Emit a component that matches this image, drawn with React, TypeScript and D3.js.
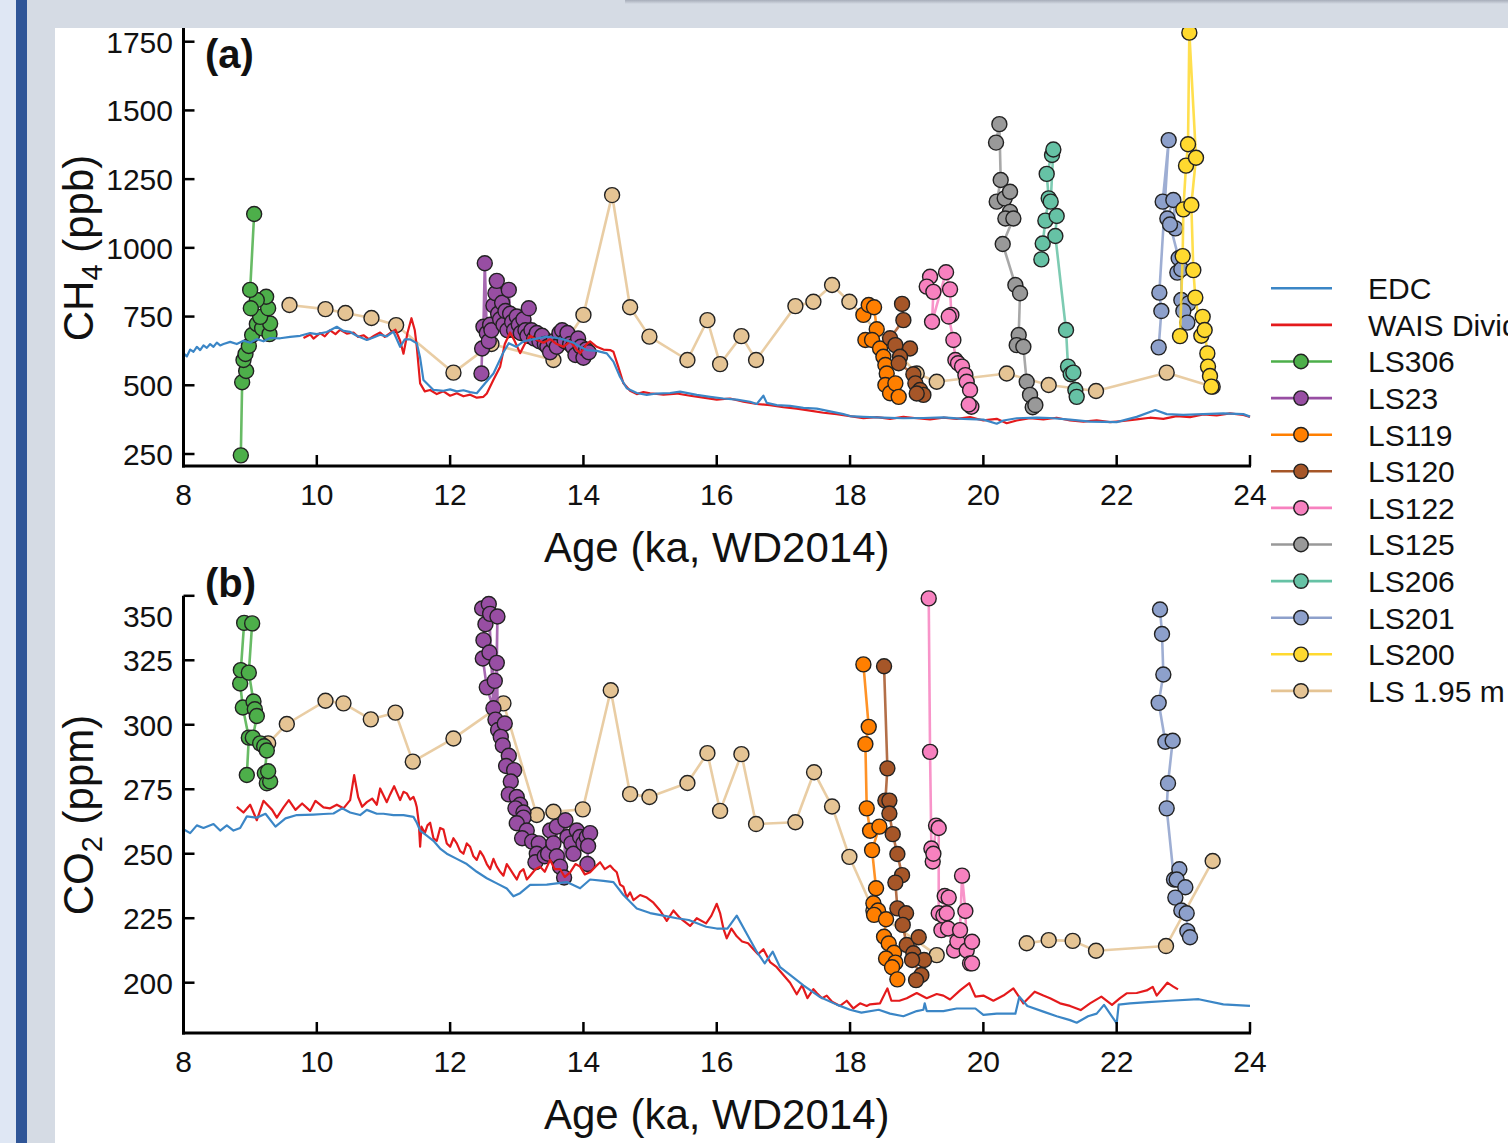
import React from 'react';
import * as d3 from 'd3';

type P = [number, number] | null;

const FONT = '"Liberation Sans", Arial, Helvetica, sans-serif';
const W = 1508;
const H = 1143;

// ---------- tick values ----------
const xTicks = [8, 10, 12, 14, 16, 18, 20, 22, 24];
const ch4Ticks = [250, 500, 750, 1000, 1250, 1500, 1750];
const co2Ticks = [200, 225, 250, 275, 300, 325, 350];

// ---------- Panel (a) CH4 ----------
const EDC_CH4: P[] = [[8.0,617],[8.05,605],[8.1,630],[8.15,622],[8.2,640],[8.25,628],[8.3,645],[8.35,636],[8.4,650],[8.45,640],[8.5,655],[8.55,645],[8.6,650],[8.7,658],[8.8,650],[8.9,662],[9.0,655],[9.1,668],[9.2,660],[9.3,672],[9.45,671],[9.6,676],[9.75,680],[9.9,690],[10.0,686],[10.15,694],[10.3,713],[10.4,698],[10.5,694],[10.6,680],[10.75,665],[10.85,674],[10.95,684],[11.05,678],[11.15,695],[11.25,640],[11.32,667],[11.4,667],[11.5,653],[11.55,600],[11.6,519],[11.75,483],[11.9,480],[12.0,485],[12.1,478],[12.2,482],[12.3,475],[12.4,471],[12.5,500],[12.65,543],[12.8,620],[12.88,653],[12.99,640],[13.1,660],[13.2,665],[13.3,670],[13.45,677],[13.6,672],[13.7,667],[13.85,655],[13.95,640],[14.05,628],[14.2,625],[14.35,616],[14.45,586],[14.55,530],[14.65,489],[14.8,472],[14.95,465],[15.1,470],[15.3,472],[15.45,477],[15.7,465],[15.9,458],[16.1,452],[16.3,448],[16.5,440],[16.6,432],[16.7,462],[16.75,436],[16.9,428],[17.1,425],[17.3,418],[17.5,415],[17.7,405],[17.9,395],[18.0,388],[18.2,385],[18.5,382],[18.8,380],[19.1,381],[19.4,383],[19.7,378],[20.0,375],[20.2,360],[20.3,372],[20.5,380],[20.8,382],[21.0,381],[21.3,375],[21.6,368],[22.0,366],[22.3,385],[22.58,410],[22.75,395],[23.0,392],[23.3,395],[23.6,398],[23.9,395],[24.0,386]];

const WAIS_CH4: P[] = [[9.8,672],[9.9,685],[9.95,670],[10.05,690],[10.12,678],[10.2,700],[10.28,686],[10.35,702],[10.45,688],[10.55,692],[10.62,676],[10.7,682],[10.78,668],[10.86,680],[10.95,692],[11.02,676],[11.1,690],[11.18,702],[11.25,662],[11.3,615],[11.36,690],[11.42,744],[11.47,700],[11.5,640],[11.55,507],[11.62,478],[11.7,483],[11.8,468],[11.9,478],[12.0,462],[12.1,471],[12.2,460],[12.3,466],[12.4,455],[12.5,458],[12.55,470],[12.65,520],[12.75,567],[12.82,650],[12.9,692],[12.97,660],[13.05,617],[13.12,650],[13.2,680],[13.3,665],[13.4,655],[13.5,668],[13.6,650],[13.7,640],[13.8,660],[13.9,630],[13.95,616],[14.05,650],[14.1,660],[14.2,640],[14.3,630],[14.4,628],[14.45,622],[14.52,570],[14.6,507],[14.7,480],[14.8,468],[14.9,475],[15.0,471],[15.2,466],[15.4,470],[15.6,462],[15.8,455],[16.0,448],[16.2,452],[16.4,440],[16.6,432],[16.8,428],[17.0,420],[17.2,415],[17.4,408],[17.6,400],[17.8,395],[18.0,388],[18.2,380],[18.4,384],[18.6,378],[18.8,385],[19.0,380],[19.2,376],[19.4,382],[19.6,378],[19.8,384],[20.0,372],[20.2,378],[20.35,362],[20.5,372],[20.7,380],[20.9,376],[21.1,382],[21.3,372],[21.5,368],[21.7,372],[21.9,366],[22.1,370],[22.3,376],[22.5,382],[22.7,378],[22.9,388],[23.1,384],[23.3,394],[23.5,390],[23.7,398],[23.9,392],[24.0,385]];

const LS306_CH4: P[] = [[8.86,245],[8.88,511],[8.94,552],[8.90,592],[8.93,614],[8.98,643],[9.03,683],[9.10,723],[9.18,707],[9.29,686],[9.30,725],[9.15,749],[9.27,780],[9.24,822],[9.10,810],[9.01,780],[9.0,847],[9.06,1123]];
const LS23_CH4: P[] = [[12.47,543],[12.48,634],[12.50,713],[12.52,944],[12.55,690],[12.58,660],[12.60,720],[12.62,700],[12.65,790],[12.68,835],[12.70,880],[12.72,760],[12.75,740],[12.78,800],[12.80,720],[12.83,770],[12.86,700],[12.88,847],[12.90,760],[12.93,730],[12.96,700],[13.00,750],[13.03,720],[13.06,690],[13.10,740],[13.13,700],[13.16,680],[13.18,780],[13.22,700],[13.26,670],[13.30,690],[13.34,660],[13.38,680],[13.42,650],[13.46,640],[13.50,620],[13.55,660],[13.60,640],[13.64,690],[13.68,700],[13.72,660],[13.76,690],[13.80,650],[13.84,640],[13.88,610],[13.92,670],[13.96,640],[14.00,600],[14.04,630],[14.08,620]];
const LS119_CH4: P[] = [[18.20,756],[18.28,792],[18.36,784],[18.40,704],[18.23,665],[18.33,665],[18.45,634],[18.50,604],[18.53,574],[18.55,543],[18.53,501],[18.60,471],[18.68,507],[18.73,458]];
const LS120_CH4: P[] = [[18.78,796],[18.80,737],[18.60,671],[18.68,646],[18.90,634],[18.75,604],[18.73,580],[18.95,540],[18.98,507],[19.05,483],[19.10,465],[19.0,470]];
const LS122_CH4: P[] = [[19.20,895],[19.15,859],[19.25,840],[19.23,731],[19.44,911],[19.50,849],[19.52,756],[19.48,750],[19.55,665],[19.58,592],[19.62,580],[19.68,568],[19.73,537],[19.75,513],[19.80,483],[19.82,422],[19.78,430]];
const LS125_CH4: P[] = [[20.19,1383],[20.24,1450],[20.26,1247],[20.20,1168],[20.32,1180],[20.40,1204],[20.40,1131],[20.33,1107],[20.45,1107],[20.29,1014],[20.48,865],[20.55,835],[20.53,683],[20.50,646],[20.60,640],[20.65,513],[20.70,465],[20.74,420],[20.78,428]];
const LS206_CH4: P[] = [[20.87,958],[20.89,1016],[20.93,1099],[20.98,1180],[20.95,1269],[21.03,1338],[21.05,1358],[21.01,1168],[21.10,1116],[21.08,1043],[21.24,701],[21.27,568],[21.31,540],[21.35,546],[21.38,483],[21.40,458]];
const LS201_CH4: P[] = [[22.63,638],[22.67,770],[22.64,837],[22.78,1392],[22.69,1168],[22.76,1107],[22.85,1174],[22.88,1071],[22.80,1085],[22.93,962],[22.91,910],[22.97,922],[22.97,810],[23.08,798],[23.0,770],[23.06,728]];
const LS200_CH4: P[] = [[22.95,679],[22.99,970],[23.00,1140],[23.04,1299],[23.07,1377],[23.09,1783],[23.19,1328],[23.12,1156],[23.15,919],[23.18,819],[23.27,680],[23.29,749],[23.32,701],[23.36,616],[23.37,568],[23.40,534],[23.42,495]];
const LS195_CH4: P[] = [[9.59,792],[10.13,777],[10.43,763],[10.82,745],[11.19,719],[12.05,546],[12.62,650],[13.55,592],[14.0,756],[14.43,1192],[14.70,784],[14.99,677],[15.56,592],[15.86,737],[16.05,577],[16.37,679],[16.59,592],[17.18,788],[17.45,804],[17.73,865],[17.99,804],[19.0,543],[19.30,513],[20.35,543],[20.98,501],[21.69,479],[22.75,546],[23.44,495]];

// ---------- Panel (b) CO2 ----------
const EDC_CO2: P[] = [[8.0,259.5],[8.1,258],[8.2,261],[8.3,260],[8.45,261.5],[8.55,259],[8.65,261],[8.75,259],[8.85,260],[8.95,264.5],[9.1,264],[9.23,265.5],[9.38,260.5],[9.53,263.7],[9.7,265],[9.95,265.2],[10.1,265.4],[10.25,265.6],[10.38,267.6],[10.5,266],[10.65,265],[10.75,267],[10.9,265.5],[11.0,265.5],[11.15,265],[11.3,265],[11.45,264.3],[11.5,262],[11.55,259],[11.65,257],[11.75,255],[11.85,252],[11.95,250],[12.1,248],[12.25,246],[12.4,243],[12.55,240.5],[12.7,238.5],[12.85,236.5],[12.95,233.5],[13.05,234.7],[13.2,237.9],[13.45,238],[13.6,238.5],[13.75,239],[13.95,236.6],[14.1,240],[14.3,239.5],[14.45,239],[14.6,234],[14.8,228.8],[15.0,227],[15.2,226],[15.4,225],[15.58,224.3],[15.84,221.7],[16.0,221],[16.16,221],[16.3,226],[16.45,219],[16.6,212],[16.72,207.5],[16.84,212],[16.95,206],[17.1,203],[17.3,199],[17.54,194.6],[17.8,191.5],[18.0,189.5],[18.17,188.4],[18.43,189.5],[18.6,188],[18.8,187],[19.0,189],[19.1,189.5],[19.12,192],[19.15,189],[19.4,189],[19.6,190],[19.88,190],[20.0,187.5],[20.2,188],[20.48,188],[20.54,194.6],[20.66,191],[20.9,188.8],[21.1,187],[21.3,185.5],[21.4,184.5],[21.57,187],[21.7,188],[21.81,191.4],[22.0,184.2],[22.03,191.5],[22.2,192],[22.47,192.5],[22.8,193],[23.23,193.6],[23.6,191.6],[24.0,191]];

const WAIS_CO2: P[] = [[8.8,268.2],[8.9,266],[9.0,269],[9.1,263],[9.2,270.5],[9.33,267],[9.4,264],[9.5,268],[9.58,270.8],[9.68,267],[9.78,269.5],[9.9,266.6],[9.98,270.5],[10.1,268],[10.2,267.6],[10.3,269],[10.4,267.6],[10.5,270.8],[10.56,280.5],[10.62,272],[10.68,268.2],[10.75,270],[10.83,271.4],[10.9,269],[10.95,275.3],[11.05,270],[11.1,273],[11.16,276.2],[11.25,270.8],[11.3,274],[11.35,273.4],[11.4,271],[11.45,272],[11.48,270],[11.5,268],[11.53,262],[11.55,252.7],[11.57,260.5],[11.62,258],[11.66,261],[11.7,262],[11.75,256],[11.8,255],[11.85,260],[11.9,259.4],[11.95,254],[12.0,252.7],[12.05,256],[12.1,254],[12.15,251],[12.2,250],[12.25,254],[12.3,252.7],[12.35,249],[12.4,247.6],[12.45,251],[12.5,249],[12.55,246],[12.6,244],[12.65,248],[12.7,245],[12.75,243],[12.8,241.5],[12.85,246],[12.9,244],[12.95,242],[13.0,240],[13.05,243],[13.1,244],[13.15,240],[13.2,241.5],[13.28,244],[13.35,245],[13.42,243],[13.5,247.6],[13.57,244],[13.65,244],[13.72,241],[13.8,242.8],[13.88,246],[13.95,245],[14.02,242],[14.1,242.8],[14.18,245],[14.25,246.7],[14.32,244],[14.4,245.4],[14.45,244],[14.5,242.8],[14.55,238],[14.6,237.2],[14.65,233],[14.7,235],[14.75,232],[14.85,234],[14.95,233],[15.05,231],[15.15,228],[15.25,224],[15.35,228],[15.45,225],[15.6,222],[15.7,225],[15.84,223],[15.92,226],[16.0,230.6],[16.05,227],[16.1,221],[16.15,217.2],[16.22,221],[16.3,218],[16.38,216],[16.47,215.3],[16.55,213],[16.62,211],[16.7,213],[16.8,208],[16.9,206],[17.0,203],[17.1,200],[17.2,195.5],[17.28,199],[17.36,194],[17.45,197.5],[17.5,196],[17.58,194],[17.65,195],[17.73,192.6],[17.85,191],[17.95,193],[18.05,190],[18.15,192],[18.25,191],[18.3,191.6],[18.45,192],[18.56,197.8],[18.62,193],[18.74,193],[18.85,194],[19.0,196],[19.15,194],[19.3,195.6],[19.4,195],[19.5,193.5],[19.65,197],[19.79,199.8],[19.88,194.6],[20.0,195],[20.15,193],[20.3,195],[20.45,197.8],[20.6,192],[20.77,196.5],[20.9,195],[21.0,194],[21.15,192],[21.3,191],[21.46,189.4],[21.6,192],[21.77,194.6],[21.93,191.4],[22.05,194],[22.15,195.9],[22.3,196],[22.45,197],[22.54,198.4],[22.6,195],[22.76,200],[22.85,198.5],[22.92,197.4]];

const LS306_CO2: P[] = [[8.95,280.5],[8.98,295],[8.89,306.7],[8.85,316],[8.86,321.2],[8.91,339.5],[9.03,339.3],[8.98,320.2],[9.05,309],[9.07,306],[9.10,303.4],[9.04,295],[9.15,292.8],[9.21,291.7],[9.25,290],[9.22,281.2],[9.25,277.3],[9.30,278],[9.27,282]];
const LS23_CO2: P[] = [[12.48,345.1],[12.53,339],[12.50,332.8],[12.49,325.7],[12.55,314.5],[12.65,306.4],[12.58,346.8],[12.6,343],[12.59,328],[12.67,317],[12.68,302],[12.71,342],[12.70,324],[12.72,298],[12.82,300.5],[12.76,295.3],[12.79,292],[12.88,288],[12.84,284],[12.96,282.4],[12.91,278],[12.88,273],[13.0,272],[13.05,269],[12.98,267.6],[13.10,266],[13.10,264],[13.0,261.8],[13.15,259],[13.08,256],[13.23,254.7],[13.33,254],[13.30,250],[13.28,246.7],[13.42,249],[13.47,250],[13.5,259],[13.55,254],[13.6,260.5],[13.6,249],[13.65,245],[13.71,240.8],[13.73,263],[13.76,256.5],[13.82,254],[13.85,250],[13.9,259],[13.95,256.5],[14.0,254],[14.05,256.5],[14.1,258],[14.07,253],[14.06,246]];
const LS119_CO2: P[] = [[18.20,323.4],[18.28,299.2],[18.23,292.5],[18.25,267.6],[18.30,258.9],[18.44,260.5],[18.33,251.4],[18.39,236.6],[18.35,230.8],[18.42,228],[18.36,226.3],[18.54,224.6],[18.51,217.8],[18.58,215.2],[18.66,211.6],[18.54,209.4],[18.68,207.8],[18.63,206],[18.71,201.3]];
const LS120_CO2: P[] = [[18.51,322.7],[18.56,283.1],[18.53,270.6],[18.59,270.6],[18.59,265.6],[18.64,257.6],[18.71,249.9],[18.78,241.7],[18.68,238.8],[18.71,228.8],[18.84,226.9],[18.79,222.4],[18.85,214.6],[19.03,217.6],[18.95,211.4],[19.11,208.8],[18.93,208.8],[19.07,203],[18.99,201]];
const LS122_CO2: P[] = [[19.18,349],[19.20,289.5],[19.22,252],[19.24,247],[19.25,250],[19.29,260.9],[19.33,260],[19.33,226.9],[19.37,220.4],[19.42,233.6],[19.40,226],[19.48,233],[19.45,226.9],[19.47,221],[19.56,212.5],[19.61,216],[19.65,220.4],[19.68,241.5],[19.73,227.8],[19.75,212.5],[19.83,215.9],[19.80,207.5],[19.83,207.5]];
const LS201_CO2: P[] = [[22.65,344.7],[22.68,335.2],[22.70,319.5],[22.63,308.5],[22.73,293.4],[22.84,293.8],[22.77,277.3],[22.75,267.6],[22.86,240],[22.94,244],[22.9,240],[23.03,237],[22.88,233],[22.97,228],[23.05,226.9],[23.06,220],[23.1,217.6]];
const LS195_CO2: P[] = [[9.27,292.8],[9.55,300.3],[10.13,309.3],[10.40,308.3],[10.81,302.1],[11.18,304.7],[11.44,285.7],[12.05,294.7],[12.80,308.3],[13.30,265],[13.55,266.3],[13.99,267.2],[14.41,313.4],[14.70,273.1],[14.99,272],[15.56,277.4],[15.86,289],[16.05,266.6],[16.37,288.6],[16.59,261.5],[17.18,262.2],[17.46,281.6],[17.73,268.3],[17.99,248.8],[18.35,228],[19.30,210.7],null,[20.65,215.3],[20.98,216.5],[21.34,216.2],[21.69,212.4],[22.74,214.2],[23.44,247.2]];

// ---------- legend ----------
const legendNames = ['EDC', 'WAIS Divide', 'LS306', 'LS23', 'LS119', 'LS120', 'LS122', 'LS125', 'LS206', 'LS201', 'LS200', 'LS 1.95 m'];
const legendColors = ['#3b86c6', '#e41a1c', '#4daf4a', '#984ea3', '#ff7f00', '#a65628', '#f781bf', '#999999', '#66c2a5', '#8da0cb', '#ffd92f', '#e5c494'];
const legendMarker = [false, false, true, true, true, true, true, true, true, true, true, true];

const C = Object.fromEntries(legendNames.map((n, i) => [n, legendColors[i]]));

type Series = { name: string; data: P[] };

const seriesA: Series[] = [
  { name: 'LS 1.95 m', data: LS195_CH4 },
  { name: 'LS306', data: LS306_CH4 },
  { name: 'LS23', data: LS23_CH4 },
  { name: 'LS119', data: LS119_CH4 },
  { name: 'LS120', data: LS120_CH4 },
  { name: 'LS122', data: LS122_CH4 },
  { name: 'LS125', data: LS125_CH4 },
  { name: 'LS206', data: LS206_CH4 },
  { name: 'LS201', data: LS201_CH4 },
  { name: 'LS200', data: LS200_CH4 },
];
const seriesB: Series[] = [
  { name: 'LS 1.95 m', data: LS195_CO2 },
  { name: 'LS306', data: LS306_CO2 },
  { name: 'LS23', data: LS23_CO2 },
  { name: 'LS119', data: LS119_CO2 },
  { name: 'LS120', data: LS120_CO2 },
  { name: 'LS122', data: LS122_CO2 },
  { name: 'LS201', data: LS201_CO2 },
];

const X0 = 183.5;
const X1 = 1250;

type PanelProps = {
  y: d3.ScaleLinear<number, number>;
  yTicks: number[];
  axisTop: number;
  axisY: number;
  series: Series[];
  edc: P[];
  wais: P[];
  tag: string;
  tagY: number;
  titleY: number;
  yTitleMain: string;
  yTitleSub: string;
  yTitleUnit: string;
  yTitleCenter: number;
  topLabelShift?: boolean;
};

function Panel(props: PanelProps) {
  const { y, yTicks, axisTop, axisY, series, edc, wais, tag, tagY, titleY } = props;
  const x = d3.scaleLinear().domain([8, 24]).range([X0, X1]);
  const line = d3
    .line<P>()
    .defined((d) => d !== null)
    .x((d) => x((d as [number, number])[0]))
    .y((d) => y((d as [number, number])[1]));
  const topVal = yTicks[yTicks.length - 1];
  return (
    <g>
      {series.map((s) => (
        <g key={s.name}>
          <path d={line(s.data) || ''} fill="none" stroke={C[s.name]} strokeWidth={2.6} strokeOpacity={0.85} strokeLinejoin="round" />
          {s.data.filter((d) => d !== null).map((d, i) => (
            <circle key={i} cx={x(d![0])} cy={y(d![1])} r={7.5} fill={C[s.name]} stroke="#222" strokeWidth={1.4} />
          ))}
        </g>
      ))}
      <path d={line(wais) || ''} fill="none" stroke={C['WAIS Divide']} strokeWidth={2.2} strokeLinejoin="round" />
      <path d={line(edc) || ''} fill="none" stroke={C['EDC']} strokeWidth={2.2} strokeLinejoin="round" />

      {/* axes */}
      <line x1={X0} x2={X0} y1={axisTop} y2={axisY + 1.5} stroke="#000" strokeWidth={3} />
      <line x1={X0 - 1.5} x2={X1 + 1} y1={axisY} y2={axisY} stroke="#000" strokeWidth={3} />
      {yTicks.map((t) => (
        <g key={t}>
          <line x1={X0} x2={X0 + 11} y1={y(t)} y2={y(t)} stroke="#000" strokeWidth={2.5} />
          <text
            x={173}
            y={y(t) + (props.topLabelShift && t === topVal ? 20 : 0)}
            dy="0.36em"
            textAnchor="end"
            fontSize={30}
            fontFamily={FONT}
            fill="#111"
          >
            {t}
          </text>
        </g>
      ))}
      {xTicks.map((t) => (
        <g key={t}>
          {t !== 8 && <line x1={x(t)} x2={x(t)} y1={axisY} y2={axisY - 11} stroke="#000" strokeWidth={2.5} />}
          <text x={x(t)} y={axisY + 39} textAnchor="middle" fontSize={30} fontFamily={FONT} fill="#111">
            {t}
          </text>
        </g>
      ))}
      <text x={(X0 + X1) / 2} y={titleY} textAnchor="middle" fontSize={42} fontFamily={FONT} fill="#111">
        Age (ka, WD2014)
      </text>
      <text
        transform={`translate(93,${props.yTitleCenter}) rotate(-90)`}
        textAnchor="middle"
        fontSize={42}
        fontFamily={FONT}
        fill="#111"
      >
        {props.yTitleMain}
        <tspan fontSize={29} dy={9}>{props.yTitleSub}</tspan>
        <tspan dy={-9}>{' ' + props.yTitleUnit}</tspan>
      </text>
      <text x={205} y={tagY} fontSize={40} fontWeight="bold" fontFamily={FONT} fill="#111">
        {tag}
      </text>
    </g>
  );
}

export default function App() {
  const yA = d3.scaleLinear().domain([250, 1750]).range([454, 41.7]);
  const yB = d3.scaleLinear().domain([200, 350]).range([982.7, 595.8]);
  const legY0 = 288.3;
  const legStep = 36.6;
  return (
    <svg
      width={W}
      height={H}
      viewBox={`0 0 ${W} ${H}`}
      style={{ position: 'absolute', left: 0, top: 0, display: 'block', background: '#fff' }}
    >
      <defs>
        <linearGradient id="shadow" x1="0" y1="0" x2="0" y2="1">
          <stop offset="0" stopColor="#a7adb9" />
          <stop offset="1" stopColor="#d5dbe4" />
        </linearGradient>
      </defs>
      <rect x={0} y={0} width={W} height={H} fill="#fff" />
      <Panel
        y={yA}
        yTicks={ch4Ticks}
        axisTop={28}
        axisY={466}
        series={seriesA}
        edc={EDC_CH4}
        wais={WAIS_CH4}
        tag="(a)"
        tagY={68}
        titleY={562}
        yTitleMain="CH"
        yTitleSub="4"
        yTitleUnit="(ppb)"
        yTitleCenter={248}
      />
      <Panel
        y={yB}
        yTicks={co2Ticks}
        axisTop={595.8}
        axisY={1033}
        series={seriesB}
        edc={EDC_CO2}
        wais={WAIS_CO2}
        tag="(b)"
        tagY={597}
        titleY={1129}
        yTitleMain="CO"
        yTitleSub="2"
        yTitleUnit="(ppm)"
        yTitleCenter={815}
        topLabelShift
      />
      {/* legend */}
      {legendNames.map((n, i) => {
        const ly = legY0 + i * legStep;
        return (
          <g key={n}>
            <line x1={1271} x2={1332} y1={ly} y2={ly} stroke={legendColors[i]} strokeWidth={2.6} />
            {legendMarker[i] && <circle cx={1301} cy={ly} r={7.2} fill={legendColors[i]} stroke="#222" strokeWidth={1.4} />}
            <text x={1368} y={ly} dy="0.36em" fontSize={30} fontFamily={FONT} fill="#111">
              {n}
            </text>
          </g>
        );
      })}
      {/* page frame */}
      <rect x={0} y={0} width={16} height={H} fill="#dfe7f4" />
      <rect x={16} y={0} width={11} height={H} fill="#2f5597" />
      <rect x={27} y={0} width={28} height={H} fill="#d5dbe4" />
      <rect x={27} y={0} width={W - 27} height={28} fill="#d5dbe4" />
      <rect x={625} y={0} width={W - 625} height={4} fill="url(#shadow)" />
    </svg>
  );
}
